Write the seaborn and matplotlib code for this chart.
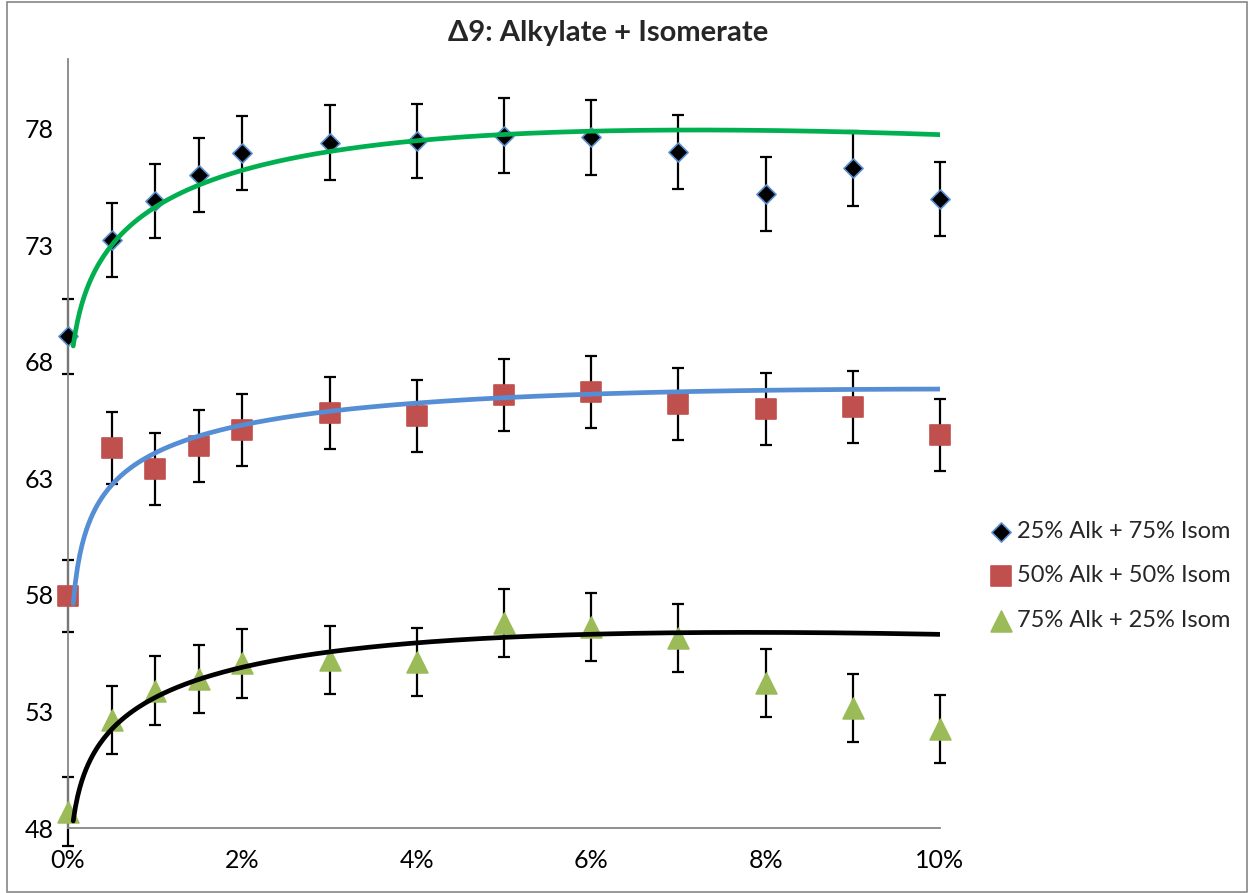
import numpy as np
import pandas as pd
import matplotlib
matplotlib.use("Agg")
import matplotlib.pyplot as plt
from matplotlib.patches import Rectangle
from matplotlib.ticker import FuncFormatter, FixedLocator
import seaborn as sns

# ---------------- data ----------------
x_pct = [0, 0.5, 1, 1.5, 2, 3, 4, 5, 6, 7, 8, 9, 10]

y_25alk = [69.1, 73.24, 74.91, 76.03, 76.96, 77.41, 77.48, 77.71, 77.64, 77.0, 75.2, 76.31, 75.0]
y_50alk = [57.96, 64.3, 63.39, 64.39, 65.08, 65.8, 65.68, 66.58, 66.71, 66.2, 65.98, 66.08, 64.87]
y_75alk = [48.7, 52.64, 53.89, 54.4, 55.07, 55.21, 55.12, 56.8, 56.63, 56.15, 54.22, 53.16, 52.25]

err_25alk = [1.6] * 13
err_50alk = [1.55] * 13
err_75alk = [1.47] * 13

labels = ["25% Alk + 75% Isom", "50% Alk + 50% Isom", "75% Alk + 25% Isom"]

# trend curves
trend_x = [0.06, 0.5, 1, 1.5, 2, 3, 4, 5, 6, 7, 8.2, 10]
trend_25alk = [68.73, 72.73, 74.64, 75.8, 76.43, 77.17, 77.46, 77.6, 77.74, 77.81, 77.88, 77.98]
trend_50alk = [57.64, 62.65, 64.22, 64.87, 65.22, 65.8, 66.2, 66.45, 66.67, 66.8, 66.82, 66.77]
trend_75alk = [48.27, 52.49, 53.42, 54.28, 54.78, 55.61, 55.98, 56.24, 56.41, 56.41, 56.36, 56.24]

yticks = [48, 53, 58, 63, 68, 73, 78]
xticks = [0, 2, 4, 6, 8, 10]
title = "Δ9: Alkylate + Isomerate"

# ---------------- style ----------------
sns.set_theme(style="white")
plt.rcParams["font.family"] = ["Lato", "DejaVu Sans"]

W, H = 1250, 893
fig = plt.figure(figsize=(W / 100, H / 100), dpi=100)
ax = fig.add_axes([68 / W, 1 - 828 / H, (940 - 68) / W, (828 - 59) / H])

def basis(x):
    lx = np.log(x)
    return np.column_stack([np.ones_like(x), lx, lx ** 2, x])

def smooth(tx, ty):
    tx = np.asarray(tx, float)
    ty = np.asarray(ty, float)
    coef, *_ = np.linalg.lstsq(basis(tx), ty, rcond=None)
    xs = np.linspace(tx.min(), tx.max(), 400)
    return xs, basis(xs) @ coef

series = [
    (y_25alk, err_25alk, "D", 95, "black", "#5B8FD0", trend_25alk, "#00B050"),
    (y_50alk, err_50alk, "s", 215, "#C0504D", "#C0504D", trend_50alk, "#558ED5"),
    (y_75alk, err_75alk, "^", 225, "#9BBB59", "#9BBB59", trend_75alk, "black"),
]

for (yv, ev, mk, sz, fc, ec, ty, lc), lab in zip(series, labels):
    ax.errorbar(x_pct, yv, yerr=ev, fmt="none", ecolor="black", elinewidth=1.6,
                capsize=4.3, capthick=1.6, zorder=2, clip_on=False)
    df = pd.DataFrame({"x": x_pct, "y": yv})
    sns.scatterplot(data=df, x="x", y="y", marker=mk, s=sz, color=fc,
                    edgecolor=ec, linewidth=1.2, ax=ax, zorder=3, label=lab,
                    clip_on=False)
    xs, ys = smooth(trend_x, ty)
    sns.lineplot(x=xs, y=ys, color=lc, linewidth=3.4, ax=ax, zorder=4,
                 legend=False, sort=False)

ax.set_xlim(0, 10)
ax.set_ylim(48, 81)
ax.xaxis.set_major_locator(FixedLocator(xticks))
ax.yaxis.set_major_locator(FixedLocator(yticks))
ax.xaxis.set_major_formatter(FuncFormatter(lambda v, p: f"{v:.0f}%"))
ax.set_xlabel("")
ax.set_ylabel("")

for s in ["top", "right"]:
    ax.spines[s].set_visible(False)
for s in ["left", "bottom"]:
    ax.spines[s].set_color("#868686")
    ax.spines[s].set_linewidth(1.3)

ax.tick_params(axis="both", which="major", direction="out", length=6,
               width=1.2, color="#868686", labelsize=18, labelcolor="black")
ax.tick_params(axis="y", pad=4)
ax.tick_params(axis="x", pad=9)

leg = ax.get_legend()
if leg is not None:
    leg.remove()
handles, lbls = ax.get_legend_handles_labels()
fig.legend(handles, lbls, loc="center left", bbox_to_anchor=(990 / W, 1 - 576 / H),
           frameon=False, fontsize=17, labelspacing=1.0, handlelength=0.9,
           handletextpad=0.25, borderpad=0, borderaxespad=0)

fig.text(608 / W, 1 - 33 / H, title, ha="center", va="center",
         fontsize=21, fontweight="bold")

fig.patches.append(Rectangle((7 / W, 1 / H), (W - 10) / W, (H - 3) / H,
                             transform=fig.transFigure, fill=False,
                             edgecolor="#868686", linewidth=1.2))

fig.savefig("out.png", dpi=100)
